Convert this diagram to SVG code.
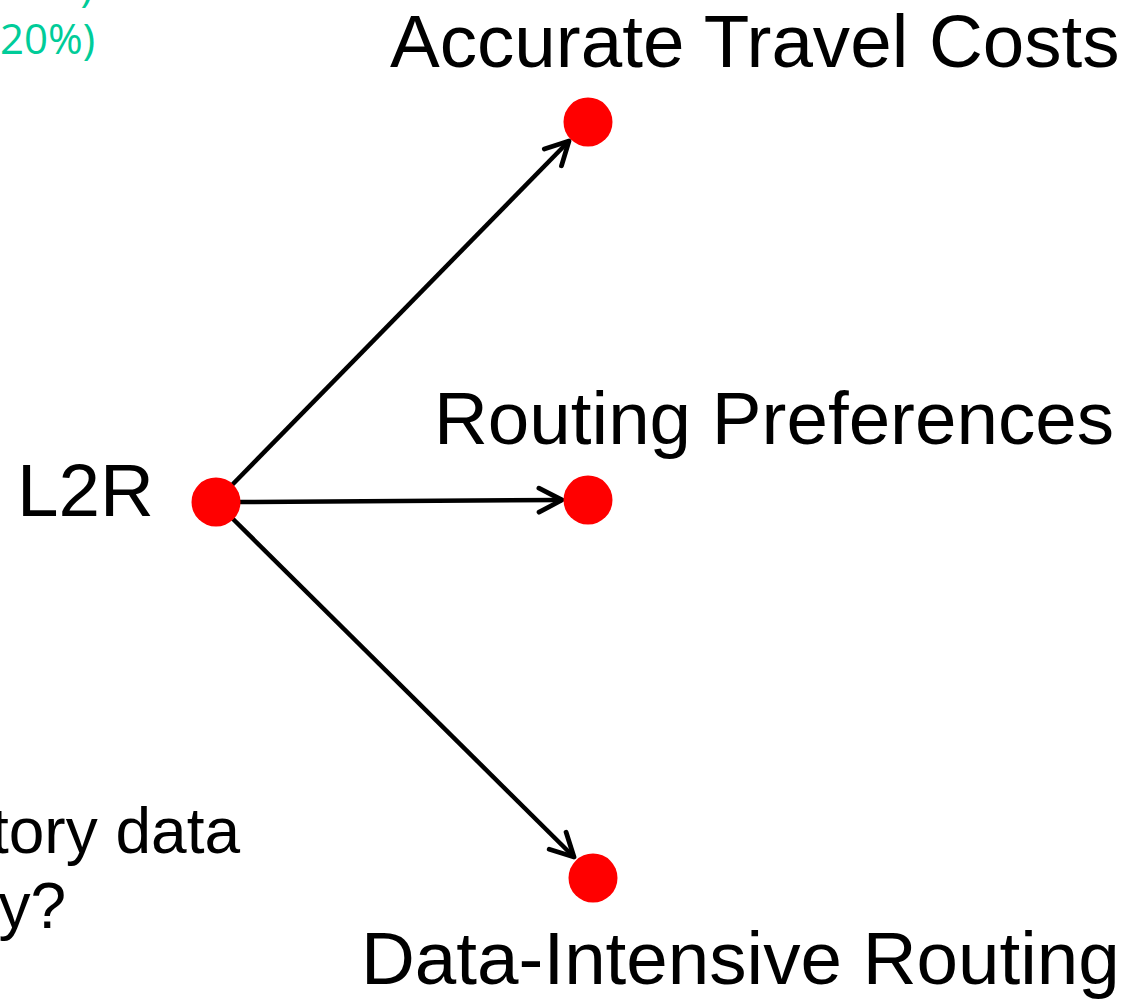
<svg xmlns="http://www.w3.org/2000/svg" width="1134" height="1003" viewBox="0 0 1134 1003">
  <style>
    .lbl { font-family: "Liberation Sans", Arial, sans-serif; font-size: 74.6px; fill: #000; }
    .side { font-family: "Liberation Sans", Arial, sans-serif; font-size: 64px; fill: #000; }
    .note { font-family: "Open Sans", "Liberation Sans", sans-serif; font-size: 42px; fill: #00cc99; }
    .node { fill: #ff0000; }
    .edge { stroke: #000; stroke-width: 4.5; fill: none; }
  </style>
  <defs>
    <marker id="arrow" viewBox="-28 -15 32 30" markerWidth="32" markerHeight="30" refX="0" refY="0" orient="auto" markerUnits="userSpaceOnUse">
      <path d="M-23,-12 L0,0 L-23,12" fill="none" stroke="#000" stroke-width="4.8" stroke-linecap="round" stroke-linejoin="round"/>
    </marker>
  </defs>
  <rect width="1134" height="1003" fill="#fff"/>

  <g id="note-text">
    <text class="note" x="93" y="1" text-anchor="end">)</text>
    <text class="note" x="0" y="54">20%)</text>
  </g>

  <g id="side-text">
    <text class="side" x="240" y="853" text-anchor="end">tory data</text>
    <text class="side" x="66" y="928" text-anchor="end">y?</text>
  </g>

  <g id="connectors">
    <line class="edge" x1="232" y1="485" x2="569" y2="141" marker-end="url(#arrow)"/>
    <line class="edge" x1="240" y1="502" x2="562" y2="500" marker-end="url(#arrow)"/>
    <line class="edge" x1="232" y1="518" x2="574" y2="857" marker-end="url(#arrow)"/>
  </g>

  <g id="node-l2r">
    <circle class="node" cx="216" cy="502" r="24.5"/>
    <text class="lbl" x="17" y="516">L2R</text>
  </g>
  <g id="node-accurate">
    <circle class="node" cx="588" cy="122" r="24.5"/>
    <text class="lbl" x="390" y="67">Accurate Travel Costs</text>
  </g>
  <g id="node-routing">
    <circle class="node" cx="588" cy="500" r="24.5"/>
    <text class="lbl" x="434" y="444">Routing Preferences</text>
  </g>
  <g id="node-data">
    <circle class="node" cx="593" cy="878" r="24.5"/>
    <text class="lbl" x="361" y="984">Data-Intensive Routing</text>
  </g>
</svg>
